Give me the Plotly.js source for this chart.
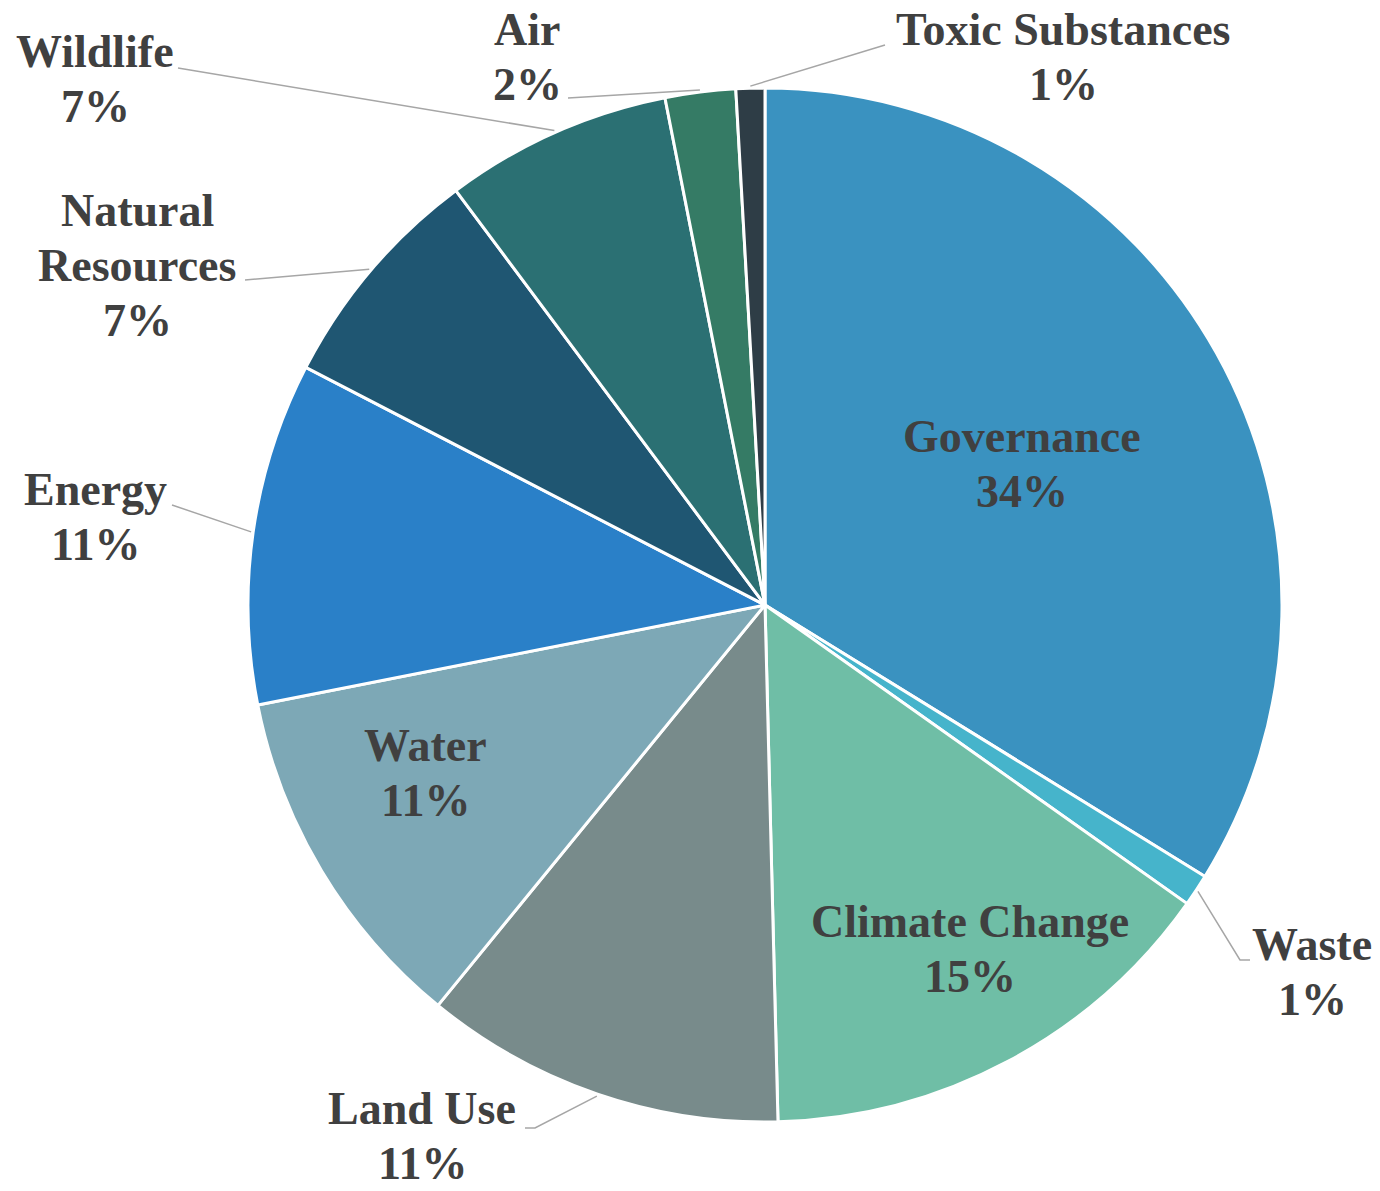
<!DOCTYPE html>
<html><head><meta charset="utf-8">
<script src="https://cdn.plot.ly/plotly-3.0.1.min.js"></script>
<style>html,body{margin:0;padding:0;background:#fff;}</style>
</head><body>
<div id="chart" style="width:1380px;height:1191px;"></div>
<script>
// ---- data ----
const categories = ["Governance","Waste","Climate Change","Land Use","Water","Energy","Natural Resources","Wildlife","Air","Toxic Substances"];
const shares = [33.8, 1.0, 14.8, 11.3, 11.0, 10.7, 7.2, 7.1, 2.2, 0.9];
const labelLines = [["Governance"],["Waste"],["Climate Change"],["Land Use"],["Water"],["Energy"],["Natural","Resources"],["Wildlife"],["Air"],["Toxic Substances"]];

// ---- style ----
const sliceColors = ["#3A92C0","#46B4CB","#6FBEA6","#788B8B","#7DA8B6","#2A80C8","#1F5672","#2B7073","#357B65","#2E3D46"];
const W = 1380, H = 1191;
const M = {l:248, r:98, t:88, b:69};
// label block centres (px) and label-side leader points (px)
const labelStyle = {
  "Governance":        {x:1022, y:464},
  "Waste":             {x:1312, y:972,  leader:[[1240,960],[1250,960]]},
  "Climate Change":    {x:970,  y:949},
  "Land Use":          {x:422,  y:1136, leader:[[535,1128],[525,1128]]},
  "Water":             {x:425,  y:773},
  "Energy":            {x:95,   y:517,  leader:[[172,505]]},
  "Natural Resources": {x:137,  y:265,  leader:[[245,280]]},
  "Wildlife":          {x:95,   y:79,   leader:[[178,68]]},
  "Air":               {x:527,  y:57,   leader:[[568,98]]},
  "Toxic Substances":  {x:1063, y:57,   leader:[[885,45]]}
};
const lineGap = 55;
const textFont = {family:"Liberation Serif, 'DejaVu Serif', serif", size:46, color:"#404040", weight:"bold"};

const pw = W - M.l - M.r, ph = H - M.t - M.b;
const cx = M.l + pw/2, cy = M.t + ph/2, R = Math.min(pw, ph)/2;
const toPX = px => (px - M.l)/pw;
const toPY = py => (H - M.b - py)/ph;

const total = shares.reduce((a,b)=>a+b,0);
let cum = 0;
const annotations = [], shapes = [];
categories.forEach((c,i)=>{
  const mid = (cum + shares[i]/2)/total; cum += shares[i];
  const th = 2*Math.PI*mid;
  const st = labelStyle[c];
  const lines = labelLines[i].concat([Math.round(shares[i]/total*100) + "%"]);
  const n = lines.length;
  lines.forEach((t,k)=>{
    annotations.push({text:t, x:toPX(st.x), y:toPY(st.y), xref:"paper", yref:"paper",
      xanchor:"center", yanchor:"middle", showarrow:false, font:textFont,
      yshift: -(k - (n-1)/2)*lineGap});
  });
  if (st.leader) {
    const tx = cx + R*1.004*Math.sin(th), ty = cy - R*1.004*Math.cos(th);
    let p = "M " + toPX(tx) + "," + toPY(ty);
    st.leader.forEach(q => { p += " L " + toPX(q[0]) + "," + toPY(q[1]); });
    shapes.push({type:"path", xref:"paper", yref:"paper", path:p, line:{color:"#A6A6A6", width:1.5}});
  }
});

const trace = {
  type:"pie", labels:categories, values:shares, sort:false, direction:"clockwise", rotation:0,
  marker:{colors:sliceColors, line:{color:"#FFFFFF", width:3}},
  textinfo:"none", hoverinfo:"label+percent", showlegend:false
};
const layout = {
  width:W, height:H, margin:M, paper_bgcolor:"#FFFFFF", plot_bgcolor:"#FFFFFF",
  showlegend:false, annotations:annotations, shapes:shapes
};
Plotly.newPlot("chart", [trace], layout, {displayModeBar:false, staticPlot:true});
</script>
</body></html>
